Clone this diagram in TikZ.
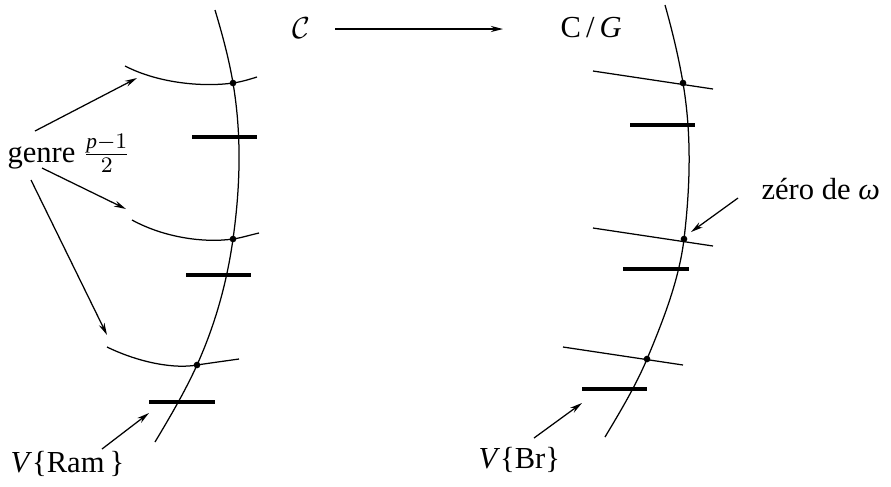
\documentclass[tikz,border=0pt]{standalone}
\usepackage{amsmath}
\usepackage{fontspec}
\setmainfont{Liberation Serif}
\usetikzlibrary{arrows.meta}
\begin{document}
\begin{tikzpicture}[x=0.36pt,y=-0.36pt,
  curve/.style={line width=0.45pt},
  bar/.style={line width=1.1pt},
  ptr/.style={line width=0.45pt,-{Stealth[length=4.4pt,width=2.2pt]}},
  dot/.style={circle,fill,inner sep=0pt,minimum size=2.4pt},
  lbl/.style={inner sep=0pt,font=\fontsize{11}{13}\selectfont}]
\useasboundingbox (0,0) rectangle (891,486);

% ---- left: curve C ----
\coordinate (L0) at (215,10);
\coordinate (L1) at (233,83);
\coordinate (L2) at (233,239);
\coordinate (L3) at (197,365);
\coordinate (L4) at (155,442);
\draw[curve] (L0) .. controls (222.3,34.3) and (228.9,58.7) .. (L1)
  .. controls (241.8,135) and (240.3,187) .. (L2)
  .. controls (227.1,281) and (215.9,323) .. (L3)
  .. controls (185.4,390.7) and (170.4,416.3) .. (L4);
\draw[curve] (125,66) .. controls (160,84) and (205,87) .. (L1)
  .. controls (241,81.9) and (249,79.5) .. (257,77);
\draw[curve] (132,220) .. controls (165,238) and (205,243) .. (L2)
  .. controls (241,237.9) and (250,235) .. (259,233);
\draw[curve] (107,347) .. controls (140,363) and (175,369) .. (L3)
  .. controls (210,363) and (225,361) .. (239,359);
\draw[bar] (192,137) -- (257,137);
\draw[bar] (186,275) -- (251,275);
\draw[bar] (149,402) -- (215,402);
\node[dot] at (L1) {};
\node[dot] at (L2) {};
\node[dot] at (L3) {};

% ---- right: curve C/G ----
\coordinate (R0) at (665,5);
\coordinate (R1) at (683,83);
\coordinate (R2) at (684,239);
\coordinate (R3) at (647,359);
\coordinate (R4) at (605,437);
\draw[curve] (R0) .. controls (672.3,31) and (678.6,57) .. (R1)
  .. controls (691.8,135) and (690.2,187) .. (R2)
  .. controls (679.2,279) and (663.8,319) .. (R3)
  .. controls (636.1,385) and (620.6,411) .. (R4);
\draw[curve] (593,71) -- (713,89);
\draw[curve] (593,228) -- (713,246);
\draw[curve] (563,347) -- (683,365);
\draw[bar] (630,125) -- (695,125);
\draw[bar] (623,269) -- (689,269);
\draw[bar] (582,389) -- (647,389);
\node[dot] at (R1) {};
\node[dot] at (R2) {};
\node[dot] at (R3) {};

% ---- labels ----
\node[lbl,anchor=center] (calC) at (301,28) {$\mathcal{C}$};
\node[lbl,anchor=base west] (CG) at (560,37) {C\,/\,\textit{G}};
\coordinate (a0) at (335,29);
\coordinate (a1) at (503,29);
\draw[ptr] (a0) -- (a1);

\node[lbl,anchor=base west] (genre) at (7,162) {genre $\frac{\textit{p}-1}{2}$};
\coordinate (g1) at (35,131);
\coordinate (g2) at (42,168);
\coordinate (g3) at (31,180);
\draw[ptr] (g1) -- (137,78);
\draw[ptr] (g2) -- (126,209);
\draw[ptr] (g3) -- (107,335);

\node[lbl,anchor=base west] (ram) at (10,472) {\textit{V}\{Ram\,\}};
\draw[ptr] (102,449) -- (149,413);

\node[lbl,anchor=base west] (br) at (478,468) {\textit{V}\{Br\}};
\draw[ptr] (534,438) -- (582,403);

\node[lbl,anchor=base west] (zero) at (761,199) {zéro de \textit{ω}};
\draw[ptr] (738,198) -- (691,232);
\end{tikzpicture}
\end{document}
